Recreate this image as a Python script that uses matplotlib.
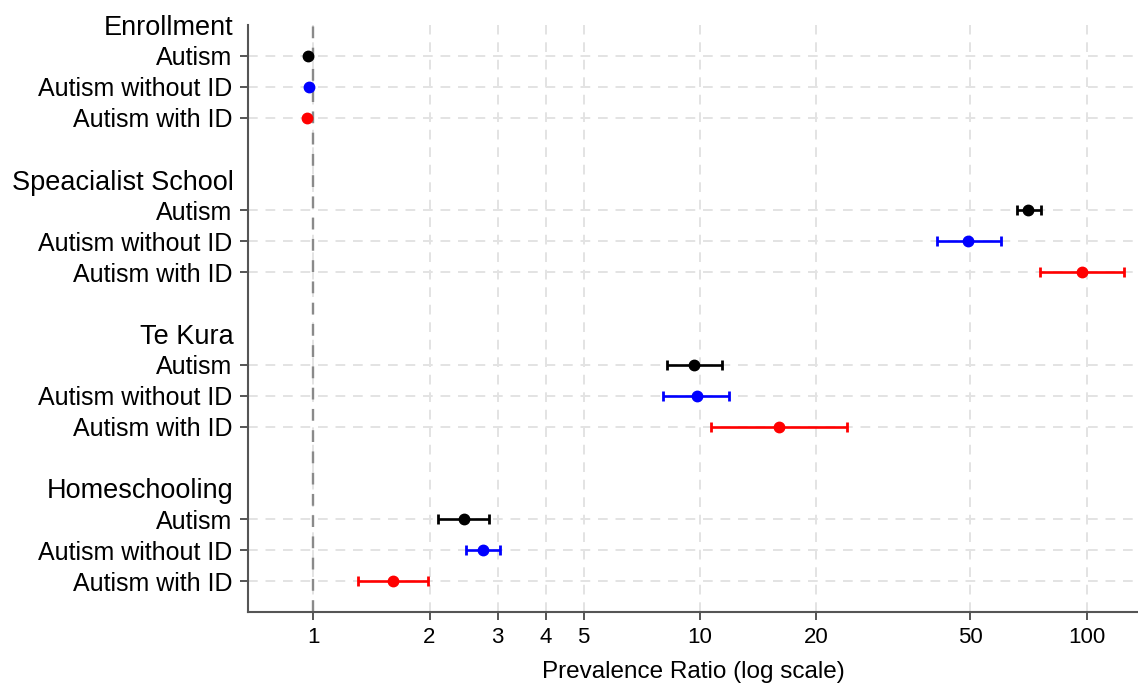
import numpy as np
import matplotlib
matplotlib.use("Agg")
import matplotlib.pyplot as plt
import matplotlib.ticker as mticker

plt.rcParams["font.family"] = ["Liberation Sans", "DejaVu Sans"]

# Groups and sub-groups (rows of the forest plot)
groups = ["Enrollment", "Speacialist School", "Te Kura", "Homeschooling"]
subgroups = ["Autism", "Autism without ID", "Autism with ID"]
colors = ["black", "#0000ff", "#ff0000"]

# Prevalence ratios with 95% CI (per group: Autism, without ID, with ID)
pr = [[0.97, 0.975, 0.965],
      [70.5, 49.4, 96.9],
      [9.67, 9.80, 16.0],
      [2.45, 2.75, 1.61]]
lower = [[0.97, 0.975, 0.965],
         [65.8, 41.0, 75.6],
         [8.20, 8.04, 10.7],
         [2.10, 2.49, 1.31]]
upper = [[0.97, 0.975, 0.965],
         [75.9, 59.8, 124.8],
         [11.4, 11.9, 24.0],
         [2.85, 3.05, 1.98]]

xticks = [1, 2, 3, 4, 5, 10, 20, 50, 100]

fig = plt.figure(figsize=(11.38, 6.87), dpi=100)
ax = fig.add_axes([0.2179, 0.1092, 0.7821, 0.8544])

row_pos = []
row_labels = []
header_pos = []
pos = 0
for g, group in enumerate(groups):
    header_pos.append(pos)
    pos += 1
    for s, sub in enumerate(subgroups):
        ax.errorbar(pr[g][s], pos,
                    xerr=[[pr[g][s] - lower[g][s]], [upper[g][s] - pr[g][s]]],
                    fmt="o", color=colors[s], markersize=7.5, elinewidth=1.9,
                    capsize=3.5, capthick=2.0, zorder=4)
        row_pos.append(pos)
        row_labels.append(sub)
        pos += 1
    pos += 1

# grid lines
for y in row_pos:
    ax.axhline(y, color="#e3e3e3", lw=1.4, ls=(0, (5, 4)), zorder=1)
for x in xticks:
    ax.axvline(x, color="#e3e3e3", lw=1.4, ls=(0, (5, 4)), zorder=1)
ax.axvline(1, color="#8a8a8a", lw=1.7, ls=(0, (5, 4)), zorder=2)

ax.set_xscale("log")
ax.set_xlim(0.679, 135.5)
ax.set_ylim(pos - 1, 0)
ax.set_xticks(xticks)
ax.xaxis.set_major_formatter(mticker.FuncFormatter(lambda v, p: f"{v:g}"))
ax.xaxis.set_minor_locator(mticker.NullLocator())
ax.set_yticks(row_pos)
ax.set_yticklabels(row_labels, fontsize=18)
ax.tick_params(axis="x", labelsize=16, length=6, width=1.4, color="#555555", pad=5)
ax.tick_params(axis="y", length=6, width=1.4, color="#555555", pad=5)

for g, group in enumerate(groups):
    ax.text(-0.016, header_pos[g] + 0.1, group, transform=ax.get_yaxis_transform(),
            ha="right", va="center", fontsize=19.5)

for side in ["top", "right"]:
    ax.spines[side].set_visible(False)
for side in ["left", "bottom"]:
    ax.spines[side].set_color("#555555")
    ax.spines[side].set_linewidth(1.5)

ax.set_xlabel("Prevalence Ratio (log scale)", fontsize=17.5, labelpad=9)

fig.savefig("out.png", dpi=100)
